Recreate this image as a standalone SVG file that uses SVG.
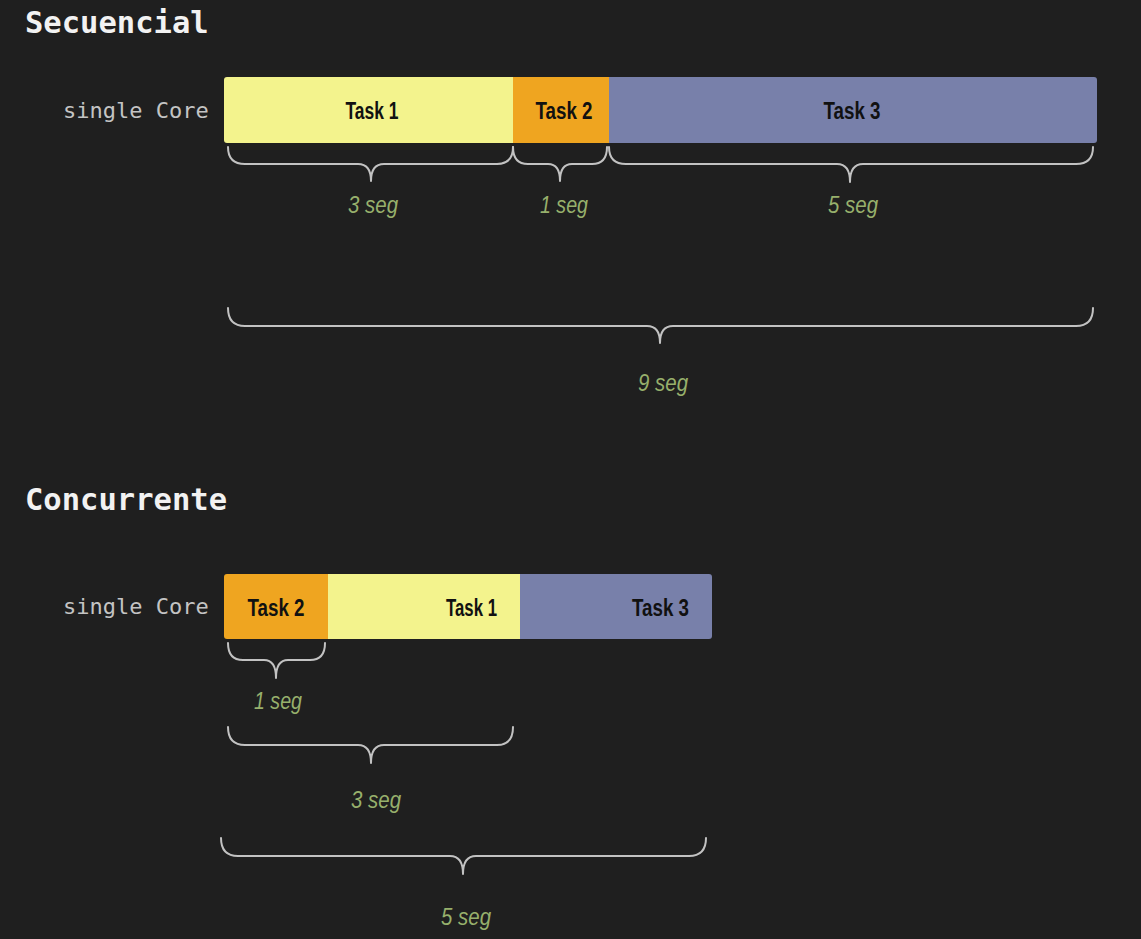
<svg xmlns="http://www.w3.org/2000/svg" width="1141" height="939" viewBox="0 0 1141 939">
<style>
.title{font-family:"DejaVu Sans Mono","Liberation Mono",monospace;font-weight:bold;font-size:30.5px;fill:#f2f2f2}
.core{font-family:"DejaVu Sans Mono","Liberation Mono",monospace;font-size:22px;fill:#c4c4c4}
.task{font-family:"Liberation Sans",Arial,sans-serif;font-weight:bold;font-size:23px;fill:#111111}
.seg{font-family:"Liberation Sans",Arial,sans-serif;font-style:italic;font-size:23px;fill:#97b06c}
.brace{fill:none;stroke:#c2c2c2;stroke-width:2;stroke-linecap:round;stroke-linejoin:round}
.t1{fill:#f3f38d}.t2{fill:#efa520}.t3{fill:#7880aa}
</style>
<rect width="1141" height="939" fill="#1f1f1f"/>

<text class="title" x="25" y="33">Secuencial</text>
<text class="title" x="25" y="510">Concurrente</text>

<g id="seq-row">
  <text class="core" x="63" y="118">single Core</text>
  <g id="seq-task1"><rect class="t1" x="224" y="77" width="292" height="66" rx="3"/><text class="task" x="372" y="119" text-anchor="middle" textLength="53" lengthAdjust="spacingAndGlyphs">Task 1</text></g>
  <g id="seq-task2"><rect class="t2" x="513" y="77" width="99" height="66"/><text class="task" x="564" y="119" text-anchor="middle" textLength="57" lengthAdjust="spacingAndGlyphs">Task 2</text></g>
  <g id="seq-task3"><path class="t3" d="M609 77 H1094 Q1097 77 1097 80 V140 Q1097 143 1094 143 H609 Z"/><text class="task" x="852" y="119" text-anchor="middle" textLength="57" lengthAdjust="spacingAndGlyphs">Task 3</text></g>
</g>

<g id="conc-row">
  <text class="core" x="63" y="614">single Core</text>
  <g id="conc-task1"><rect class="t1" x="326" y="574" width="196" height="65"/><text class="task" x="497" y="616" text-anchor="end" textLength="51" lengthAdjust="spacingAndGlyphs">Task 1</text></g>
  <g id="conc-task3"><path class="t3" d="M520 574 H709 Q712 574 712 577 V636 Q712 639 709 639 H520 Z"/><text class="task" x="689" y="616" text-anchor="end" textLength="57" lengthAdjust="spacingAndGlyphs">Task 3</text></g>
  <g id="conc-task2"><path class="t2" d="M328 574 H227 Q224 574 224 577 V636 Q224 639 227 639 H328 Z"/><text class="task" x="276" y="616" text-anchor="middle" textLength="57" lengthAdjust="spacingAndGlyphs">Task 2</text></g>
</g>

<g id="braces">
  <path class="brace" d="M228 147 Q228 164 245 164 H358 Q371 164 371 181 Q371 164 384 164 H497 Q513 164 513 147"/>
  <path class="brace" d="M513 147 Q513 164 528 164 H548 Q560 164 560 181 Q560 164 572 164 H592 Q607 164 607 147"/>
  <path class="brace" d="M609 147 Q609 164 626 164 H837 Q850 164 850 182 Q850 164 863 164 H1076 Q1093 164 1093 147"/>
  <path class="brace" d="M228 308 Q228 326 245 326 H647 Q660 326 660 343 Q660 326 673 326 H1076 Q1093 326 1093 308"/>
  <path class="brace" d="M228 643 Q228 660 243 660 H264 Q276 660 276 678 Q276 660 288 660 H310 Q325 660 325 643"/>
  <path class="brace" d="M228 727 Q228 745 245 745 H358 Q371 745 371 763 Q371 745 384 745 H497 Q513 745 513 727"/>
  <path class="brace" d="M221 838 Q221 856 238 856 H450 Q463 856 463 874 Q463 856 476 856 H689 Q706 856 706 838"/>
</g>

<g id="labels">
  <text class="seg" x="373" y="213" text-anchor="middle" textLength="50" lengthAdjust="spacingAndGlyphs">3 seg</text>
  <text class="seg" x="564" y="213" text-anchor="middle" textLength="48" lengthAdjust="spacingAndGlyphs">1 seg</text>
  <text class="seg" x="853" y="213" text-anchor="middle" textLength="50" lengthAdjust="spacingAndGlyphs">5 seg</text>
  <text class="seg" x="663" y="391" text-anchor="middle" textLength="50" lengthAdjust="spacingAndGlyphs">9 seg</text>
  <text class="seg" x="278" y="709" text-anchor="middle" textLength="48" lengthAdjust="spacingAndGlyphs">1 seg</text>
  <text class="seg" x="376" y="808" text-anchor="middle" textLength="50" lengthAdjust="spacingAndGlyphs">3 seg</text>
  <text class="seg" x="466" y="925" text-anchor="middle" textLength="50" lengthAdjust="spacingAndGlyphs">5 seg</text>
</g>
</svg>
